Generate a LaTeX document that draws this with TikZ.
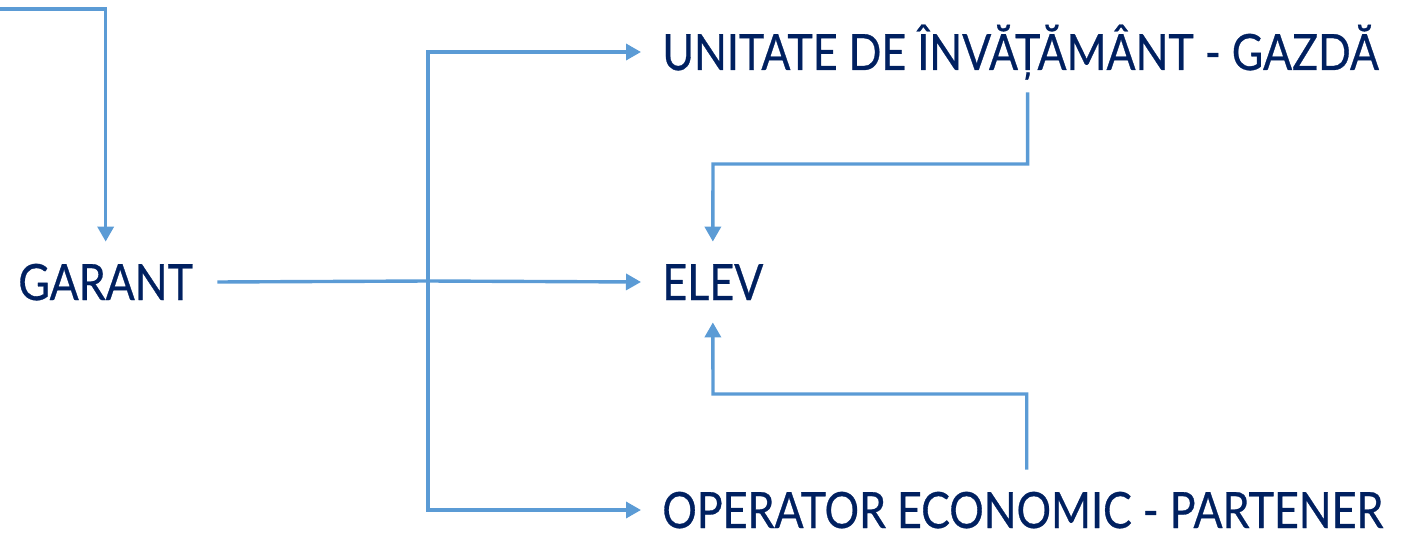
\documentclass[tikz,border=0pt]{standalone}
\usepackage{fontspec}
\setmainfont{Lato}[FakeStretch=0.86, FakeBold=0.6]
\usepackage{tikz}
\usetikzlibrary{arrows.meta}
\usetikzlibrary{positioning}
\definecolor{lineblue}{RGB}{91,155,213}
\definecolor{textnavy}{RGB}{0,32,96}

\begin{document}
\begin{tikzpicture}[x=0.5pt, y=-0.5pt,
		box/.style={inner xsep=10.5pt, inner ysep=11pt, text height=18pt, text depth=0pt,
			text=textnavy, font=\fontsize{25}{30}\selectfont, anchor=west},
		link/.style={draw=lineblue, line width=1.7pt},
		flow/.style={link, -{Triangle[length=7.5pt,width=8pt]}}]
				
				\useasboundingbox (0,0) rectangle (1408,534);
				
				\node[box, inner xsep=12pt] (garant) at (-6,282) {GARANT};
				\node[box] (unitate) at (641,52) {UNITATE DE ÎNVĂȚĂMÂNT - GAZDĂ};
				\node[box] (elev) at (641,282) {ELEV};
				\node[box] (operator) at (641,510) {OPERATOR ECONOMIC - PARTENER};
				
				\coordinate (src) at (0,9);
				\coordinate (split) at (428,281);
				\coordinate (topbend) at (713,164);
				\coordinate (botbend) at (713,394);
				
				\draw[flow] (src) -| (garant.north);
				\draw[link] (garant.east) -- (split);
				\draw[flow] (split) |- (unitate.west);
				\draw[flow] (split) -- (elev.west);
				\draw[flow] (split) |- (operator.west);
				
				\draw[flow] ([xshift=3.5pt]unitate.south) |- (topbend) -- (elev.north);
				\draw[flow] ([xshift=2pt]operator.north) |- (botbend) -- (elev.south);
				\end{tikzpicture}
\end{document}
